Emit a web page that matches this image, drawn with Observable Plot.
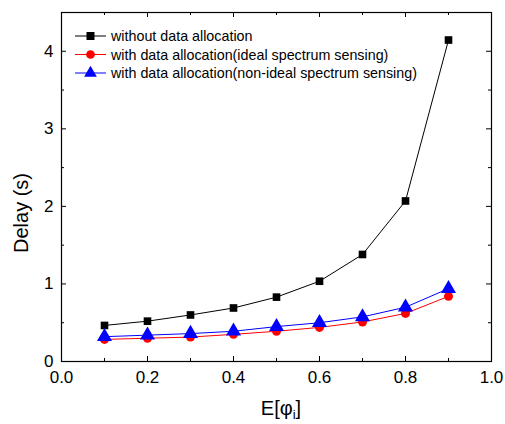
<!DOCTYPE html>
<html><head><meta charset="utf-8">
<script src="https://cdn.jsdelivr.net/npm/d3@7"></script>
<script src="https://cdn.jsdelivr.net/npm/@observablehq/plot@0.6"></script>
<style>
body{margin:0;background:#fff;}
svg{font-family:"Liberation Sans",Arial,sans-serif;}
</style></head>
<body><div id="chart"></div>
<script>
const xValues = [0.1,0.2,0.3,0.4,0.5,0.6,0.7,0.8,0.9];
const withoutAlloc = [0.465,0.52,0.60,0.69,0.83,1.035,1.38,2.07,4.145];
const idealAlloc = [0.285,0.30,0.315,0.35,0.39,0.44,0.51,0.62,0.84];
const nonIdealAlloc = [0.32,0.34,0.36,0.39,0.45,0.50,0.575,0.70,0.94];
const seriesNames = ["without data allocation","with data allocation(ideal spectrum sensing)","with data allocation(non-ideal spectrum sensing)"];
const seriesColors = ["#000000","#ff0000","#0000ff"];
const seriesSymbols = ["square","circle","triangle"];
const xMajor = [0,0.2,0.4,0.6,0.8,1.0];
const xMinor = [0.1,0.3,0.5,0.7,0.9];
const yMajor = [0,1,2,3,4];
const yMinor = [0.5,1.5,2.5,3.5];

const W = 505, H = 424, mL = 61, mR = 14, mT = 12, mB = 63;
const pw = W - mL - mR, ph = H - mT - mB;

const seriesVals = [withoutAlloc, idealAlloc, nonIdealAlloc];
const rows = seriesVals.flatMap((vals,si)=>vals.map((v,i)=>({x:xValues[i], y:v, s:si})));
const symR = [4.3,4.5,5.6];

const marks = [
  Plot.axisX(xMajor,{tickSize:0, tickPadding:9, tickFormat:d3.format(".1f"), fontSize:17, label:null}),
  Plot.axisY(yMajor,{tickSize:0, tickPadding:8, tickFormat:d3.format("d"), fontSize:17, label:null}),
  // inward ticks
  Plot.tickX(xMajor,{x:d=>d, insetTop:ph-5, stroke:"#000"}),
  Plot.tickX(xMinor,{x:d=>d, insetTop:ph-3, stroke:"#000"}),
  Plot.tickX(xMajor,{x:d=>d, insetBottom:ph-5, stroke:"#000"}),
  Plot.tickX(xMinor,{x:d=>d, insetBottom:ph-3, stroke:"#000"}),
  Plot.tickY(yMajor,{y:d=>d, insetRight:pw-5, stroke:"#000"}),
  Plot.tickY(yMinor,{y:d=>d, insetRight:pw-3, stroke:"#000"}),
  Plot.tickY(yMajor,{y:d=>d, insetLeft:pw-5, stroke:"#000"}),
  Plot.tickY(yMinor,{y:d=>d, insetLeft:pw-3, stroke:"#000"}),
  Plot.frame({stroke:"#000", strokeWidth:1.2}),
];
seriesVals.forEach((vals,si)=>{
  const d = rows.filter(r=>r.s===si);
  marks.push(Plot.line(d,{x:"x", y:"y", stroke:seriesColors[si], strokeWidth:1}));
});
seriesVals.forEach((vals,si)=>{
  const d = rows.filter(r=>r.s===si);
  marks.push(Plot.dot(d,{x:"x", y:"y", symbol:seriesSymbols[si], r:symR[si], fill:seriesColors[si], stroke:"none"}));
});

const chart = Plot.plot({
  width:W, height:H,
  marginLeft:mL, marginRight:mR, marginTop:mT, marginBottom:mB,
  x:{domain:[0,1]},
  y:{domain:[0,4.5]},
  style:{fontFamily:"'Liberation Sans',Arial,sans-serif", color:"#000", background:"#fff"},
  marks
});
document.getElementById("chart").appendChild(chart);

const svg = d3.select(chart);
// axis titles
svg.append("text").attr("transform","translate(28,213) rotate(-90)").attr("text-anchor","middle")
  .attr("font-size",20).attr("fill","#000").text("Delay (s)");
const xt = svg.append("text").attr("x",281).attr("y",415).attr("text-anchor","middle").attr("font-size",20).attr("fill","#000");
xt.append("tspan").text("E[\u03C6");
xt.append("tspan").attr("font-size",13).attr("dy",4).text("i");
xt.append("tspan").attr("dy",-4).text("]");

// legend
const lg = svg.append("g").attr("transform","translate(75,36)");
seriesNames.forEach((name,i)=>{
  const g = lg.append("g").attr("transform",`translate(0,${i*18.5})`);
  g.append("line").attr("x1",0).attr("x2",31).attr("y1",0).attr("y2",0).attr("stroke",seriesColors[i]).attr("stroke-width",1);
  g.append("path").attr("d",d3.symbol(i===0?d3.symbolSquare:i===1?d3.symbolCircle:d3.symbolTriangle, i===0?64:i===1?60:70)())
    .attr("transform","translate(15.5,0)").attr("fill",seriesColors[i]);
  g.append("text").attr("x",36).attr("y",0).attr("dy","0.35em").attr("text-anchor","start")
    .attr("font-size",14.3).attr("fill","#000").text(name);
});
</script></body></html>
